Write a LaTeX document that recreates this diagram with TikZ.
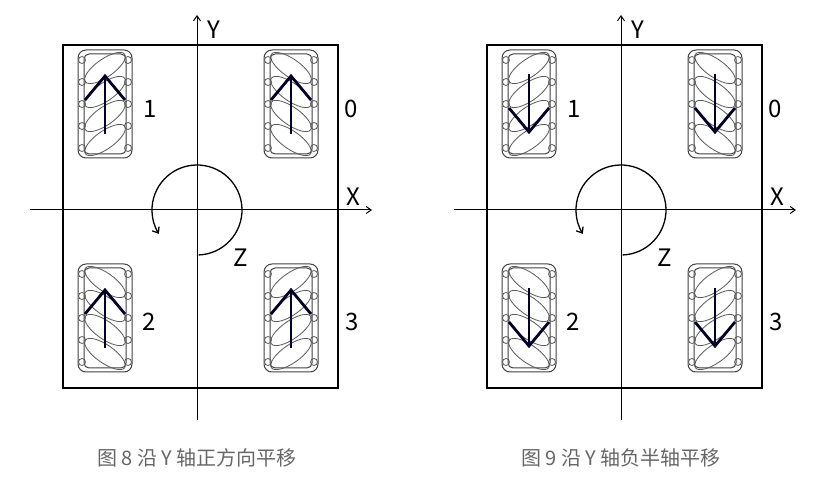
\documentclass[tikz,border=0pt]{standalone}
\usepackage{fontspec}
\setmainfont{Noto Sans CJK SC}
\usetikzlibrary{arrows.meta}
\tikzset{
 frame/.style={line width=1.6pt},
 axis/.style={line width=1pt,-{Straight Barb[length=5pt,width=7pt]}},
 lbl/.style={font=\fontsize{24}{24}\selectfont},
 wheelout/.style={draw=black!75,line width=1pt,rounded corners=8pt},
 roller/.style={draw=black!65,line width=0.8pt},
 motion/.style={draw=black!85!blue,line width=2.8pt},
 captext/.style={text=black!60,font=\fontsize{20}{20}\selectfont},
 pics/wheel/.style={code={
   \draw[wheelout] (-27,-54) rectangle (27,54);
   \draw[wheelout,rounded corners=5pt] (-21,-50) rectangle (21,50);
   \foreach \yy in {-36,-12,12,36}{
     \draw[roller,rotate around={#1:(0,\yy)}] (0,\yy) ellipse (24pt and 9pt);}
   \foreach \yy in {-44,-22,0,22,44}{
     \draw[roller] (-23,\yy) circle (3.5pt); \draw[roller] (23,\yy) circle (3.5pt);}
 }},
 pics/uparrow/.style={code={
   \draw[motion] (0,30) -- (0,-28);
   \draw[motion,line join=miter] (-20,-4) -- (0,-28) -- (20,-4);}},
 pics/downarrow/.style={code={
   \draw[motion] (0,-30) -- (0,28);
   \draw[motion,line join=miter] (-20,4) -- (0,28) -- (20,4);}},
}
\begin{document}
\begin{tikzpicture}[x=1pt,y=-1pt]
\useasboundingbox (0,0) rectangle (831,486);
\foreach \ox/\dir/\fn/\ct in {0/uparrow/8/正方向平移, 424/downarrow/9/负半轴平移}{
 \begin{scope}[xshift=\ox pt]
  \node[draw,frame,minimum width=275pt,minimum height=343pt,inner sep=0] (box\fn) at (200.5,216.5) {};
  \coordinate (yb\fn) at (197,420); \coordinate (yt\fn) at (197,15);
  \coordinate (xl\fn) at (30,210); \coordinate (xr\fn) at (372,210);
  \draw[axis] (yb\fn) -- (yt\fn);
  \draw[axis] (xl\fn) -- (xr\fn);
  \node[lbl] (Y\fn) at (214,30) {Y};
  \node[lbl] (X\fn) at (353,197) {X};
  \node[lbl] (Z\fn) at (241,258) {Z};
  \coordinate (c\fn) at (197,210);
  \draw[line width=1.3pt,-{Straight Barb[length=5pt,width=8pt]}] (c\fn) ++(88:45) arc[start angle=88,end angle=-212,radius=45];
  \pic at (105,104) {wheel=35};
  \pic at (291,104) {wheel=-35};
  \pic at (105,318) {wheel=-35};
  \pic at (291,318) {wheel=35};
  \pic at (105,104) {\dir}; \pic at (291,104) {\dir};
  \pic at (105,318) {\dir}; \pic at (291,318) {\dir};
  \node[lbl] (n1\fn) at (150,109) {1};
  \node[lbl] (n0\fn) at (351,109) {0};
  \node[lbl] (n2\fn) at (149,322) {2};
  \node[lbl] (n3\fn) at (352,322) {3};
  \node[captext] (cap\fn) at (197,458) {图 \fn\ 沿 Y 轴\ct};
 \end{scope}}
\end{tikzpicture}
\end{document}
